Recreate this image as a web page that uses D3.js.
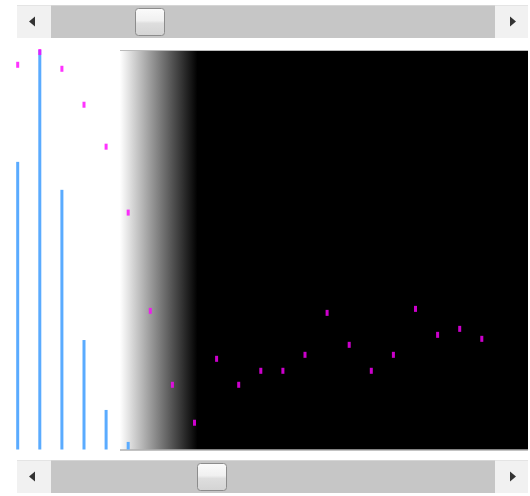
<!DOCTYPE html>
<html><head><meta charset="utf-8">
<script src="https://cdn.jsdelivr.net/npm/d3@7"></script>
<style>html,body{margin:0;padding:0;background:#fff;}svg{display:block;}</style>
</head><body>
<svg id="chart" width="530" height="496"></svg>
<script>
const categories = d3.range(1, 23).map(String);
const barValues = [72, 100, 65, 27.4, 9.9, 1.9, null, null, null, null, null, null, null, null, null, null, null, null, null, null, null, null];
const markerValues = [96.3, 99.5, 95.3, 86.3, 75.8, 59.3, 34.7, 16.2, 6.7, 22.7, 16.2, 19.7, 19.7, 23.7, 34.2, 26.2, 19.7, 23.7, 35.2, 28.7, 30.2, 27.7];
const yDomain = [0, 100];

const svg = d3.select("#chart");
const defs = svg.append("defs");

const plot = {left: 0, right: 528, top: 50, bottom: 449.5};
const x = d3.scalePoint().domain(categories).range([17.7, 481.8]);
const y = d3.scaleLinear().domain(yDomain).range([plot.bottom, plot.top]);

// background gradient
const bg = defs.append("linearGradient").attr("id", "bgGrad")
  .attr("x1", "0%").attr("x2", "100%").attr("y1", "0%").attr("y2", "0%");
bg.append("stop").attr("offset", "0%").attr("stop-color", "#ffffff");
bg.append("stop").attr("offset", "19%").attr("stop-color", "#000000");
bg.append("stop").attr("offset", "100%").attr("stop-color", "#000000");

svg.append("rect").attr("x", 120).attr("y", plot.top)
  .attr("width", plot.right - 120).attr("height", plot.bottom - plot.top)
  .attr("fill", "url(#bgGrad)");
svg.append("line").attr("x1", 120).attr("x2", plot.right)
  .attr("y1", plot.top + 0.5).attr("y2", plot.top + 0.5)
  .attr("stroke", "#bbb").attr("stroke-width", 1);
svg.append("line").attr("x1", 120).attr("x2", plot.right)
  .attr("y1", plot.bottom + 0.5).attr("y2", plot.bottom + 0.5)
  .attr("stroke", "#888").attr("stroke-width", 1);

// bars
svg.append("g").selectAll("rect")
  .data(categories.map((c, i) => ({c, v: barValues[i]})).filter(d => d.v != null))
  .join("rect")
  .attr("x", d => x(d.c) - 1.5)
  .attr("width", 3)
  .attr("y", d => y(d.v))
  .attr("height", d => y(0) - y(d.v))
  .attr("fill", "#5aabff");

// markers
svg.append("g").selectAll("rect")
  .data(categories.map((c, i) => ({c, v: markerValues[i]})))
  .join("rect")
  .attr("x", d => x(d.c) - 1.5)
  .attr("width", 3)
  .attr("y", d => y(d.v) - 3)
  .attr("height", 6)
  .attr("fill", "#ff00ff")
  .attr("fill-opacity", 0.8);

// scrollbars
const thumbGrad = defs.append("linearGradient").attr("id", "thumbGrad")
  .attr("x1", "0%").attr("x2", "0%").attr("y1", "0%").attr("y2", "100%");
thumbGrad.append("stop").attr("offset", "0%").attr("stop-color", "#fbfbfb");
thumbGrad.append("stop").attr("offset", "45%").attr("stop-color", "#f0f0f0");
thumbGrad.append("stop").attr("offset", "55%").attr("stop-color", "#dedede");
thumbGrad.append("stop").attr("offset", "100%").attr("stop-color", "#d4d4d4");

function scrollbar(top, thumbX) {
  const g = svg.append("g");
  const h = 33;
  g.append("rect").attr("x", 17).attr("y", top).attr("width", 511).attr("height", h).attr("fill", "#f1f1f1");
  g.append("line").attr("x1", 17).attr("x2", 528).attr("y1", top + 0.5).attr("y2", top + 0.5).attr("stroke", "#e4e4e4");
  g.append("rect").attr("x", 51).attr("y", top + 0.5).attr("width", 444).attr("height", h - 0.5).attr("fill", "#c6c6c6");
  const cy = top + h / 2;
  g.append("path").attr("d", `M29,${cy} L35,${cy - 5} L35,${cy + 5} Z`).attr("fill", "#333");
  g.append("path").attr("d", `M516,${cy} L510,${cy - 5} L510,${cy + 5} Z`).attr("fill", "#333");
  g.append("rect").attr("x", thumbX + 0.5).attr("y", top + 3.5).attr("width", 29).attr("height", h - 6)
    .attr("rx", 3).attr("fill", "url(#thumbGrad)").attr("stroke", "#8c8c8c");
}
scrollbar(5, 135);
scrollbar(460, 197);
</script>
</body></html>
